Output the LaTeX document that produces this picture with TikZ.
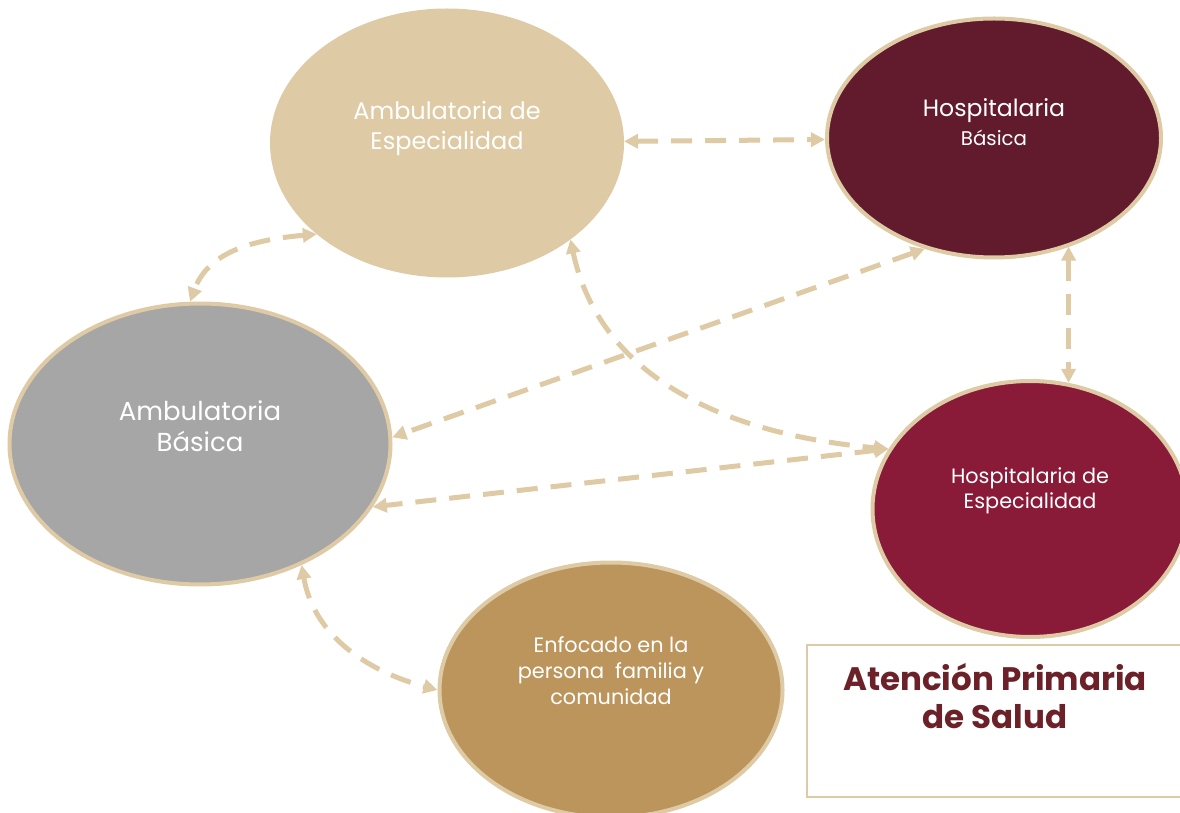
\documentclass[tikz,border=0pt]{standalone}
\usepackage{fontspec}
\setmainfont{Poppins}
\usepackage{tikz}
\usetikzlibrary{arrows.meta,positioning,shapes.geometric}
\definecolor{crema}{HTML}{DECAA4}
\definecolor{vino}{HTML}{611B2D}
\definecolor{gris}{HTML}{A6A6A6}
\definecolor{guinda}{HTML}{891B39}
\definecolor{dorado}{HTML}{BC955C}
\definecolor{titulo}{HTML}{6B2127}

\begin{document}
\begin{tikzpicture}[x=1pt, y=1pt,
    nivel/.style={ellipse, draw=crema, line width=4pt, inner sep=0pt},
    etiqueta/.style={text=white, align=center},
    flecha/.style={draw=crema, line width=5pt, dash pattern=on 21pt off 13pt,
      {Triangle[length=14pt,width=14pt]}-{Triangle[length=14pt,width=14pt]}}]
    \useasboundingbox (0, 0) rectangle (1180, 812);

    % niveles de atencion
    \node[nivel, fill=crema, minimum width=350, minimum height=265] (ambesp) at (447, 669) {};
    \node[nivel, fill=vino, minimum width=334, minimum height=239] (hospbas) at (994, 674) {};
    \node[nivel, fill=gris, minimum width=381, minimum height=281] (ambbas) at (200, 368) {};
    \node[nivel, fill=guinda, minimum width=315, minimum height=256] (hospesp) at (1030, 303) {};
    \node[nivel, fill=dorado, minimum width=343, minimum height=255] (enfoque) at (611, 122) {};

    \node[etiqueta, font=\fontsize{24}{30}\selectfont] (ambesp-t) at (447, 684) {Ambulatoria de\\Especialidad};
    \node[etiqueta, font=\fontsize{23.6}{29}\selectfont] (hospbas-t) at (994, 690) {Hospitalaria\\{\fontsize{19.8}{29}\selectfont Básica}};
    \node[etiqueta, font=\fontsize{26}{31}\selectfont] (ambbas-t) at (200, 386) {Ambulatoria\\Básica};
    \node[etiqueta, font=\fontsize{20.8}{25.5}\selectfont] (hospesp-t) at (1030, 321) {Hospitalaria de\\Especialidad};
    \node[etiqueta, font=\fontsize{20.8}{26}\selectfont] (enfoque-t) at (611, 141) {Enfocado en la\\persona\ \ familia y\\comunidad};

    % recuadro del titulo
    \draw[crema, line width=2pt] (807, 167) rectangle (1190, 15);
    \node[text=titulo, align=center, font=\fontsize{32.5}{38}\selectfont\bfseries] (apsalud) at (995, 116) {Atención Primaria\\de Salud};

    % referencias entre niveles
    \path[flecha] (ambesp) -- (hospbas);
    \path[flecha] (ambesp.215) to[out=185, in=70] (ambbas.94);
    \path[flecha] (ambesp.322) to[out=-78, in=175] (hospesp.157);
    \path[flecha] (hospbas.238) -- (ambbas.2);
    \path[flecha] (hospesp.73 |- hospbas.305) -- (hospesp.73);
    \path[flecha] (hospesp.157) -- (ambbas.340);
    \path[flecha] (ambbas.310) to[out=-80, in=165] (enfoque.west);
\end{tikzpicture}
\end{document}
